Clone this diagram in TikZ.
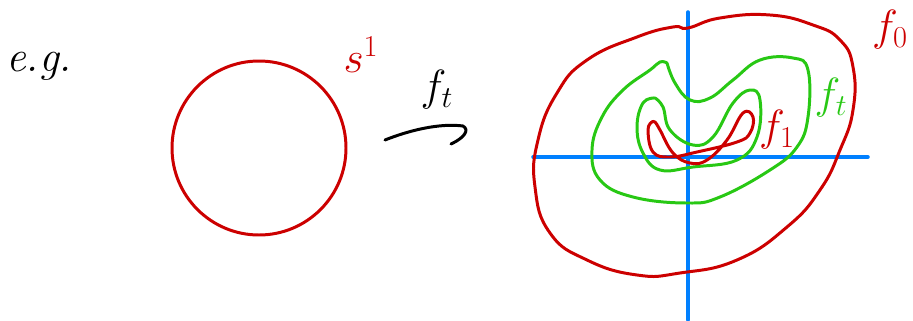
\documentclass[tikz,border=0pt]{standalone}
\usepackage{amsmath}
\usepackage{tikz}

\definecolor{inkred}{RGB}{204,0,0}
\definecolor{inkgreen}{RGB}{40,200,20}
\definecolor{inkblue}{RGB}{0,128,255}

\begin{document}
\begin{tikzpicture}[x=0.02cm, y=-0.02cm,
    ink/.style={line width=1.7pt, line cap=round, line join=round},
    lbl/.style={inner sep=0pt, font=\fontsize{25}{25}\selectfont}]
    \useasboundingbox (0,0) rectangle (913,321);
    % left: the circle
    \node[lbl] (eg) at (39,66) {\textit{e.g.}};
    \coordinate (O1) at (259,148);
    \draw[ink, inkred] (O1) circle (87);
    \node[lbl, text=inkred] (S) at (361,55) {$s^{1}$};
    % the map, with a hand-drawn hook
    \coordinate (arrS) at (385,140);
    \coordinate (arrE) at (463,126);
    \coordinate (hook) at (451,144);
    \draw[ink] (arrS) .. controls (410,130) and (440,123) .. (arrE)
        .. controls (470,130) and (464,138) .. (hook);
    \node[lbl] (ft) at (437,90) {$f_t$};
    % right: axes
    \coordinate (O2) at (688,157);
    \draw[ink, line width=2pt, inkblue] (688,12) -- (688,320);
    \draw[ink, line width=2pt, inkblue] (533,157) -- (868,157);
    % level curves
    \draw[ink, inkred] plot[smooth cycle, tension=0.8] coordinates {
        (688,28) (720,18) (770,15) (813,25) (840,40) (853,67) (853,110) (840,150)
        (820,190) (787,227) (737,260) (680,273) (637,275) (587,260) (550,233)
        (535,187) (538,140) (557,93) (587,60) (637,37) (673,27)};
    \draw[ink, inkgreen] plot[smooth, tension=0.7] coordinates {
        (667,63) (675,83) (690,100) (710,98) (733,80) (760,60) (793,58) (808,70)
        (808,117) (797,147) (770,170) (720,197) (687,203) (633,197) (600,180)
        (592,150) (602,117) (623,90) (650,70) (660,62) (667,63)};
    \draw[ink, inkgreen] plot[smooth, tension=0.7] coordinates {
        (655,98) (663,107) (670,130) (693,145) (713,137) (733,103) (750,90)
        (760,100) (757,137) (737,160) (693,167) (660,170) (643,153) (637,127)
        (643,103) (655,98)};
    \draw[ink, inkred] plot[smooth, tension=0.7] coordinates {
        (652,122) (648,130) (653,152) (670,157) (697,152) (737,142) (750,133)
        (753,117) (743,113) (727,140) (707,160) (690,163) (673,153) (660,130)
        (655,122) (652,122)};
    \node[lbl, text=inkred] (f0) at (890,30) {$f_0$};
    \node[lbl, text=inkgreen] (ftr) at (831,98) {$f_t$};
    \node[lbl, text=inkred] (f1) at (777,130) {$f_1$};
\end{tikzpicture}
\end{document}
